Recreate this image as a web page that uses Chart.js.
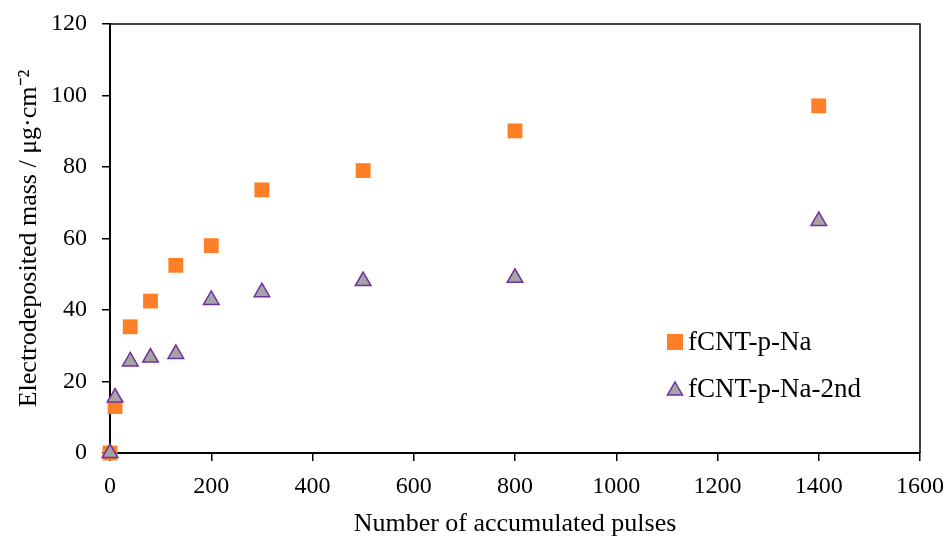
<!DOCTYPE html>
<html>
<head>
<meta charset="utf-8">
<script src="https://cdn.jsdelivr.net/npm/chart.js@4/dist/chart.umd.min.js"></script>
<style>
html,body{margin:0;padding:0;background:#fff;}
#wrap{width:950px;height:538px;}
</style>
</head>
<body>
<div id="wrap"><canvas id="c" width="950" height="538"></canvas></div>
<script>
const pulses = [0, 10, 40, 80, 130, 200, 300, 500, 800, 1400];
const massFirst = [0, 13, 35.3, 42.5, 52.5, 58, 73.6, 79, 90.1, 97.1];
const massSecond = [0, 15.5, 25.6, 26.7, 27.7, 42.8, 45, 48.1, 49, 64.9];
const seriesNames = ['fCNT-p-Na', 'fCNT-p-Na-2nd'];
const xTitle = 'Number of accumulated pulses';
const yTitle = 'Electrodeposited mass / \u03bcg\u00b7cm\u207b\u00b2';

const FONT = "'Liberation Serif', 'Times New Roman', serif";
const ORANGE = '#FF7F27';
const GREY = '#A5A5A5';
const PURPLE = '#7030A0';

const toPts = (ys) => pulses.map((x, i) => ({x: x, y: ys[i]}));

const framePlugin = {
  id: 'frame',
  afterDatasetsDraw(chart) {
    const {ctx, chartArea: a} = chart;
    ctx.save();
    ctx.strokeStyle = '#000';
    ctx.lineWidth = 1.5;
    ctx.beginPath();
    ctx.moveTo(a.left, a.top);
    ctx.lineTo(a.right, a.top);
    ctx.lineTo(a.right, a.bottom);
    ctx.stroke();
    ctx.restore();
  },
  afterDraw(chart) {
    const {ctx, chartArea: a} = chart;
    const items = [
      {name: seriesNames[0], style: 'rect'},
      {name: seriesNames[1], style: 'tri'}
    ];
    const lx = a.left + 565;
    const ly0 = a.top + 318;
    const gap = 47;
    ctx.save();
    ctx.font = '27px ' + FONT;
    ctx.textBaseline = 'middle';
    items.forEach((it, i) => {
      const y = ly0 + i * gap;
      if (it.style === 'rect') {
        ctx.fillStyle = ORANGE;
        ctx.fillRect(lx - 8, y - 8, 16, 16);
      } else {
        ctx.fillStyle = GREY;
        ctx.strokeStyle = PURPLE;
        ctx.lineWidth = 1.5;
        ctx.beginPath();
        ctx.moveTo(lx, y - 7);
        ctx.lineTo(lx + 7.5, y + 6);
        ctx.lineTo(lx - 7.5, y + 6);
        ctx.closePath();
        ctx.fill();
        ctx.stroke();
      }
      ctx.fillStyle = '#000';
      ctx.fillText(it.name, lx + 13, y + 1);
    });
    ctx.restore();
  }
};

new Chart(document.getElementById('c'), {
  type: 'scatter',
  data: {
    datasets: [
      {
        label: seriesNames[0],
        data: toPts(massFirst),
        pointStyle: 'rect',
        pointRadius: 10.5,
        pointHoverRadius: 10.5,
        backgroundColor: ORANGE,
        borderColor: ORANGE,
        borderWidth: 0,
        clip: false,
        order: 2
      },
      {
        label: seriesNames[1],
        data: toPts(massSecond),
        pointStyle: 'triangle',
        pointRadius: 9,
        pointHoverRadius: 9,
        backgroundColor: GREY,
        borderColor: PURPLE,
        borderWidth: 1.5,
        clip: false,
        order: 1
      }
    ]
  },
  options: {
    responsive: false,
    animation: false,
    devicePixelRatio: 1,
    layout: {padding: {left: 0, top: 24, right: 30, bottom: 0}},
    plugins: {
      legend: {display: false},
      tooltip: {enabled: false}
    },
    scales: {
      x: {
        type: 'linear',
        min: 0, max: 1600,
        afterFit(s) { s.height = 85; s.paddingLeft = 0; s.paddingRight = 0; },
        ticks: {stepSize: 200, color: '#000', font: {family: FONT, size: 24}, padding: 11, maxRotation: 0,
                callback: (v) => String(v)},
        grid: {display: true, drawOnChartArea: false, drawTicks: true, tickLength: 8, color: '#000', lineWidth: 1.5},
        border: {display: true, color: '#000', width: 2},
        title: {display: true, text: xTitle, color: '#000', font: {family: FONT, size: 26}, padding: {top: 0, bottom: -2}}
      },
      y: {
        type: 'linear',
        min: 0, max: 120,
        afterFit(s) { s.width = 110; s.paddingTop = 0; s.paddingBottom = 0; },
        ticks: {stepSize: 20, color: '#000', font: {family: FONT, size: 24}, padding: 15,
                callback: (v) => String(v)},
        grid: {display: true, drawOnChartArea: false, drawTicks: true, tickLength: 8, color: '#000', lineWidth: 1.5},
        border: {display: true, color: '#000', width: 2},
        title: {display: true, text: yTitle, color: '#000', font: {family: FONT, size: 26}, padding: {top: 14, bottom: 0}}
      }
    }
  },
  plugins: [framePlugin]
});
</script>
</body>
</html>
